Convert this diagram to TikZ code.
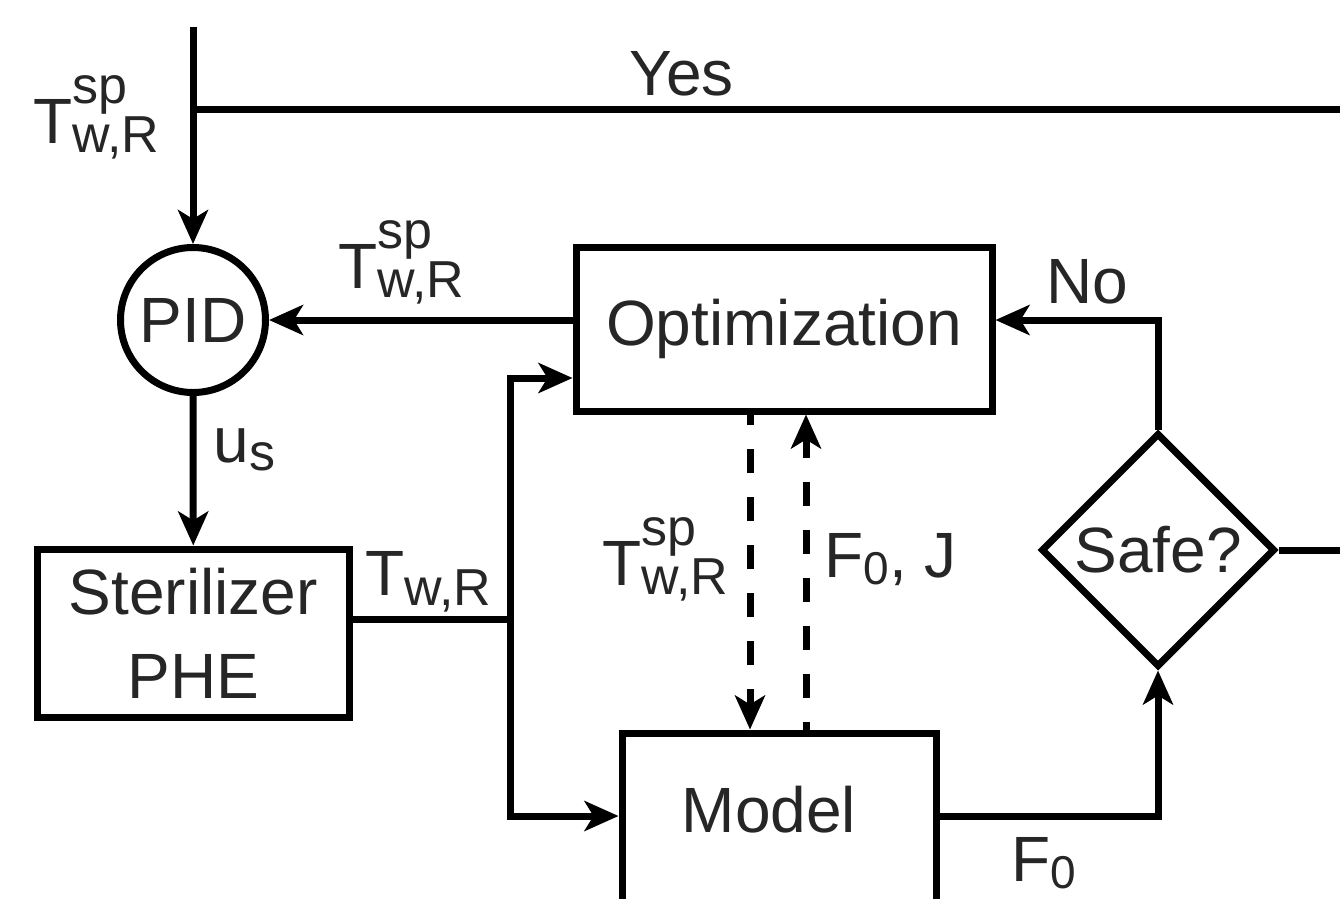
\documentclass[tikz,border=0pt]{standalone}
\usepackage{fontspec}
\setmainfont{Liberation Sans}
\usetikzlibrary{arrows.meta,shapes.geometric}
\definecolor{tc}{HTML}{262626}
\newcommand{\scr}{\fontsize{52}{52}\selectfont}
\newcommand{\scd}{\fontsize{46}{46}\selectfont}
\newcommand{\Tsp}{T\rlap{\raisebox{40pt}{\scr sp}}\raisebox{-9pt}{\scr w,R}}
\newcommand{\Twr}{T\raisebox{-10pt}{\scr w,R}}
\newcommand{\Fz}{F\raisebox{-7pt}{\scd 0}}
\begin{document}
\begin{tikzpicture}[x=1pt,y=-1pt,line width=7pt,
  every node/.style={text=tc,font=\fontsize{64}{84}\selectfont},
  blk/.style={draw=black,rectangle,inner sep=0pt},
  lbl/.style={anchor=base west,inner sep=0pt},
  arr/.style={-{Stealth[length=34pt,width=30pt,inset=9pt]}},
  dsh/.style={arr,dash pattern=on 24pt off 24pt}]
\useasboundingbox (0,0) rectangle (1340,898);
\clip (0,0) rectangle (1340,898);
% blocks
\node[blk,minimum width=416pt,minimum height=164pt] (opt) at (784,329) {Optimization};
\node[circle,draw=black,minimum size=145pt,inner sep=0pt] (pid) at (193,320) {PID};
\node[blk,minimum width=312.5pt,minimum height=168pt,align=center] (ster) at (193.25,633) {Sterilizer\\PHE};
\node[blk,minimum width=314pt,minimum height=200pt] (model) at (779,833) {};
\node[anchor=base,inner sep=0pt] (modeltxt) at (769,832) {Model};
\node[diamond,draw=black,aspect=1,minimum width=234pt,minimum height=234pt,inner sep=0pt] (safe) at (1158,550) {Safe?};
% coordinates
\coordinate (top) at (193,27);
\coordinate (yj) at (193,109);
\coordinate (yend) at (1360,109);
\coordinate (j) at (510,619);
\coordinate (jt) at (510,378);
\coordinate (jb) at (510,816);
\coordinate (nc) at (1158,320);
\coordinate (send) at (1360,550);
\path (opt.south) ++(-34,0) coordinate (d1);
\path (opt.south) ++(22,0) coordinate (d2);
% connectors
\draw[arr] (top) -- (pid.north);
\draw (yj) -- (yend);
\draw[arr] (opt.west |- pid.east) -- (pid.east);
\draw[arr] (pid.south) -- (ster.north);
\draw (ster.east |- j) -- (j);
\draw[arr] (j) |- (opt.west |- jt);
\draw[arr] (j) |- (model.west |- jb);
\draw[arr] (model.east |- jb) -| (safe.south);
\draw[arr] (safe.north) |- (opt.east |- nc);
\draw (safe.east) -- (send);
\draw[dsh,dash phase=13.5pt] (d1) -- (d1 |- model.north);
\draw[dsh,dash phase=16.5pt] (d2 |- model.north) -- (d2);
% labels
\node[lbl] (l1) at (30,143) {\Tsp};
\node[lbl] (l2) at (335,288) {\Tsp};
\node[lbl] (l3) at (599,585) {\Tsp};
\node[lbl] (l4) at (821,577) {\Fz, J};
\node[lbl] (l5) at (362,595) {\Twr};
\node[lbl] (l6) at (210,462) {u\raisebox{-8pt}{\scr s}};
\node[lbl] (l7) at (1008,881) {\Fz};
\node[lbl] (l8) at (626,95) {Yes};
\node[lbl] (l9) at (1043,303) {No};
\end{tikzpicture}
\end{document}
